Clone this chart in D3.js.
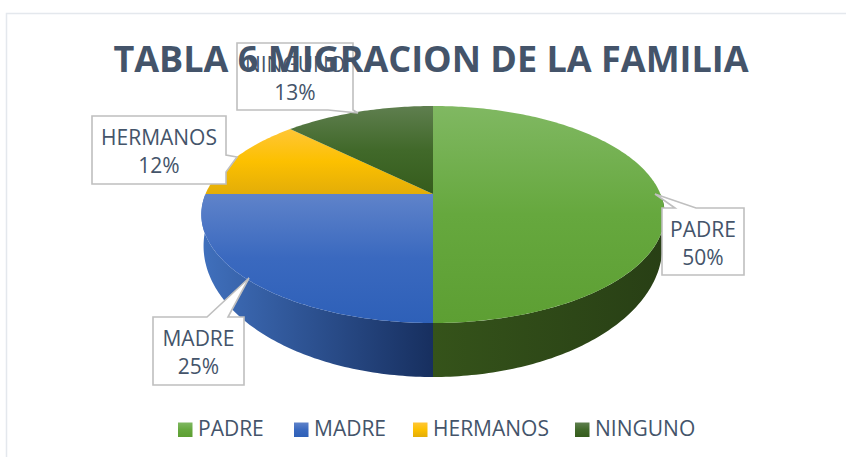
<!DOCTYPE html>
<html>
<head>
<meta charset="utf-8">
<script src="https://d3js.org/d3.v7.min.js"></script>
<style>
    html, body { margin: 0; padding: 0; background: #fff; }
    text { font-family: "Open Sans", sans-serif; }
</style>
</head>
<body>
<div id="graph-container"></div>
<script>

    /////////////////////////////////////////////////////////////////////////////
                          ///////    Data    ///////
    /////////////////////////////////////////////////////////////////////////////

    var categories = ['PADRE', 'MADRE', 'HERMANOS', 'NINGUNO'];
    var values = [50, 25, 12.4, 12.6];
    var value_labels = ['50%', '25%', '12%', '13%'];
    var title_text = 'TABLA 6 MIGRACION DE LA FAMILIA';

    /////////////////////////////////////////////////////////////////////////////
                          ///////    Variables    ///////
    /////////////////////////////////////////////////////////////////////////////

    var w = 846, h = 457;

    // top face: a circle seen in perspective, centre of the pie is not centre of the ellipse
    var top_face = {cx: 433, cy: 194, rx: 227.5, up: 88, down: 129};
    var base_face = {cx: 433, cy: 229, rx: 227.5, up: 114, down: 148};

    var top_colors = [['#80b862', '#66a83e', '#5d9f33'],
                      ['#5f83ca', '#3a69bf', '#2e60b8'],
                      ['#ffc636', '#fcc000', '#e3ad08'],
                      ['#5f7f4f', '#41692a', '#355c1c']];
    var wall_colors = [['#35531a', '#283f15'], ['#4070bd', '#172f5f']];

    // callout box, plus the tip of its pointer and where the pointer leaves the box
    var callouts = [
        {x: 662, y: 208, w: 82, h: 67, tip: [655, 194], base: [[696, 208], [675, 208]]},
        {x: 153, y: 317, w: 91, h: 68, tip: [249, 278], base: [[207, 317], [228, 317]]},
        {x: 92, y: 116, w: 134, h: 68, tip: [237, 157], base: [[226, 155], [226, 172]]},
        {x: 237, y: 43, w: 116, h: 67, tip: [358, 113], base: [[353, 110], [328, 110]]}
    ];
    var legend_x = [178, 294, 413, 575];

    /////////////////////////////////////////////////////////////////////////////
                          ///////    Set Up Chart    ///////
    /////////////////////////////////////////////////////////////////////////////

    var svg = d3.select('#graph-container').append('svg')
                .attr('width', w).attr('height', h).style('display', 'block');
    var defs = svg.append('defs');

    svg.append('path')
       .attr('d', 'M846,13.5H6.5V457')
       .attr('fill', 'none').attr('stroke', '#e4e8ed').attr('stroke-width', 1.5);

    function project(face, angle) {
        var u = Math.sin(angle), v = -Math.cos(angle);
        var a = 2 * face.up * face.down / (face.up + face.down);
        var c = (face.down - face.up) / (face.down + face.up);
        var k = 1 - c * v;
        return [face.cx + face.rx * u / k, face.cy + a * v / k];
    }

    var line = d3.line();
    var pie = d3.pie().sort(null)(values);

    function rim(face, a0, a1) {
        var n = Math.max(2, Math.ceil(Math.abs(a1 - a0) * 60));
        return d3.range(n + 1).map(i => project(face, a0 + (a1 - a0) * i / n));
    }

    function vgrad(id, cols) {
        var g = defs.append('linearGradient').attr('id', id)
                    .attr('x1', 0).attr('y1', 0).attr('x2', 0).attr('y2', 1);
        cols.forEach((col, i) => g.append('stop').attr('offset', i / (cols.length - 1)).attr('stop-color', col));
    }

    top_colors.forEach((cols, i) => vgrad('top' + i, cols));

    // walls, only the part of the rim that faces the viewer
    var wall_limits = [[Math.PI / 2, Math.PI], [Math.PI, Math.PI * 1.5]];
    wall_limits.forEach((lim, i) => {
        var pts = rim(top_face, lim[0], lim[1]).concat(rim(base_face, lim[1], lim[0]));
        var x_ext = d3.extent(pts, p => p[0]);
        var g = defs.append('linearGradient').attr('id', 'wall' + i)
                    .attr('gradientUnits', 'userSpaceOnUse')
                    .attr('x1', x_ext[0]).attr('x2', x_ext[1]).attr('y1', 0).attr('y2', 0);
        g.append('stop').attr('offset', 0).attr('stop-color', wall_colors[i][0]);
        g.append('stop').attr('offset', 1).attr('stop-color', wall_colors[i][1]);
        svg.append('path').attr('d', line(pts) + 'Z').attr('fill', 'url(#wall' + i + ')');
    });

    svg.selectAll('.slice').data(pie).enter().append('path')
       .attr('class', 'slice')
       .attr('d', d => line([[top_face.cx, top_face.cy]].concat(rim(top_face, d.startAngle, d.endAngle))) + 'Z')
       .attr('fill', (d, i) => 'url(#top' + i + ')');

    /////////////////////////////////////////////////////////////////////////////
                          ///////    Callouts    ///////
    /////////////////////////////////////////////////////////////////////////////

    function callout_path(c) {
        // walk the box clockwise and splice the pointer into the side it leaves from
        var corners = [[c.x, c.y], [c.x + c.w, c.y], [c.x + c.w, c.y + c.h], [c.x, c.y + c.h]];
        var out = [];
        corners.forEach((p, i) => {
            out.push(p);
            var q = corners[(i + 1) % 4];
            var b0 = c.base[0], b1 = c.base[1];
            var on_side = pt => (p[0] == q[0] && pt[0] == p[0]) || (p[1] == q[1] && pt[1] == p[1]);
            if (on_side(b0) && on_side(b1)) {
                var along = pt => Math.abs(pt[0] - p[0]) + Math.abs(pt[1] - p[1]);
                var ordered = along(b0) < along(b1) ? [b0, b1] : [b1, b0];
                out.push(ordered[0], c.tip, ordered[1]);
            }
        });
        return line(out) + 'Z';
    }

    var labels = svg.selectAll('.callout').data(callouts).enter().append('g').attr('class', 'callout');

    labels.append('path')
          .attr('d', callout_path)
          .attr('fill', '#fff').attr('stroke', '#bfbfbf').attr('stroke-width', 1.6);

    labels.append('text')
          .attr('x', c => c.x + c.w / 2).attr('y', c => c.y + 29)
          .attr('text-anchor', 'middle').attr('font-size', 21).attr('fill', '#44546a')
          .text((c, i) => categories[i]);

    labels.append('text')
          .attr('x', c => c.x + c.w / 2).attr('y', c => c.y + 57)
          .attr('text-anchor', 'middle').attr('font-size', 21).attr('fill', '#44546a')
          .text((c, i) => value_labels[i]);

    /////////////////////////////////////////////////////////////////////////////
                          ///////    Title & Legend    ///////
    /////////////////////////////////////////////////////////////////////////////

    svg.append('text')
       .attr('x', 431).attr('y', 72)
       .attr('text-anchor', 'middle').attr('font-size', 36).attr('font-weight', 700)
       .attr('fill', '#44546a')
       .text(title_text);

    var legend = svg.selectAll('.legend').data(categories).enter().append('g').attr('class', 'legend');

    legend.append('rect')
          .attr('x', (d, i) => legend_x[i]).attr('y', 422.5)
          .attr('width', 14.5).attr('height', 14.5)
          .attr('fill', (d, i) => 'url(#top' + i + ')');

    legend.append('text')
          .attr('x', (d, i) => legend_x[i] + 20).attr('y', 435.5)
          .attr('font-size', 21).attr('fill', '#44546a')
          .text(d => d);

</script>
</body>
</html>
